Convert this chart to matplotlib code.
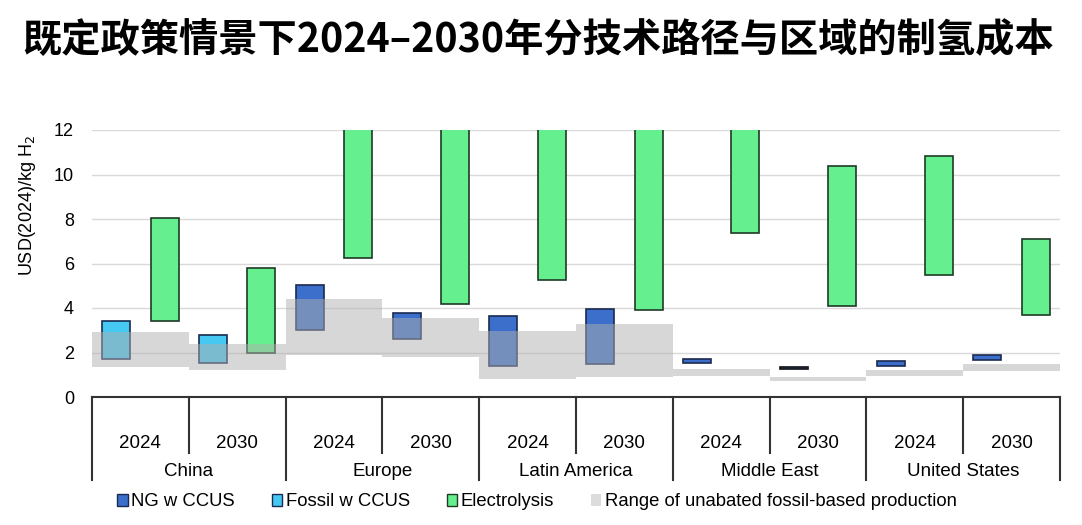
import matplotlib
matplotlib.use("Agg")
import matplotlib.pyplot as plt
from matplotlib.patches import Patch
from matplotlib.transforms import blended_transform_factory
import numpy as np

plt.rcParams['font.family'] = ['Liberation Sans', 'Noto Sans CJK SC', 'DejaVu Sans']

# data
regions = ['China', 'Europe', 'Latin America', 'Middle East', 'United States']
years = ['2024', '2030']
# CCUS type per group (fossil for China, natural gas elsewhere)
ccus_type = ['fossil', 'fossil', 'ng', 'ng', 'ng', 'ng', 'ng', 'ng', 'ng', 'ng']
ccus_low = [1.70, 1.53, 3.00, 2.60, 1.40, 1.48, 1.55, 1.26, 1.40, 1.65]
ccus_high = [3.42, 2.79, 5.03, 3.77, 3.64, 3.95, 1.70, 1.33, 1.60, 1.90]
elec_low = [3.40, 1.98, 6.25, 4.20, 5.25, 3.90, 7.37, 4.10, 5.50, 3.70]
elec_high = [8.05, 5.80, 12.5, 12.5, 12.5, 12.5, 12.5, 10.40, 10.85, 7.10]
fossil_low = [1.35, 1.22, 1.90, 1.80, 0.80, 0.90, 0.95, 0.72, 0.95, 1.18]
fossil_high = [2.90, 2.38, 4.40, 3.55, 2.97, 3.28, 1.26, 0.90, 1.20, 1.50]

c_ng = '#3b6fcb'
c_fossil = '#45c8f2'
c_elec = '#66ef8e'
c_gray = '#b0b0b0'

fig = plt.figure(figsize=(10.82, 5.25), dpi=100)
ax = fig.add_axes([92/1082, 128/525, 968/1082, 267/525])

n = len(ccus_low)
idx = np.arange(n)
ccus_colors = [c_fossil if t == 'fossil' else c_ng for t in ccus_type]
ccus_h = np.array(ccus_high) - np.array(ccus_low)
ccus_edge = ['#1a2a50' if h > 0.1 else '#111111' for h in ccus_h]
ax.bar(idx + 0.25, ccus_h, bottom=ccus_low, width=0.29, color=ccus_colors,
       edgecolor=ccus_edge, linewidth=1.2, zorder=2)
ax.bar(idx + 0.75, np.array(elec_high) - np.array(elec_low), bottom=elec_low,
       width=0.29, color=c_elec, edgecolor='#1f3a25', linewidth=1.2, zorder=2)
ax.bar(idx + 0.5, np.array(fossil_high) - np.array(fossil_low), bottom=fossil_low,
       width=1.0, color=c_gray, alpha=0.5, linewidth=0, zorder=3)

ax.set_xlim(0, n)
ax.set_ylim(0, 12)
ax.set_yticks(range(0, 13, 2))
ax.yaxis.grid(True, color='#d9d9d9', linewidth=1)
ax.set_axisbelow(True)
for s in ax.spines.values():
    s.set_visible(False)
ax.tick_params(axis='y', length=0, pad=13, labelsize=13)
ax.tick_params(axis='x', length=0, labelbottom=False)

# category box below the axis
tr = blended_transform_factory(ax.transData, ax.transAxes)
px = 1 / 267
ax.plot([0, n], [0, 0], transform=tr, color='#333333', lw=1.5, clip_on=False)
for i in range(n + 1):
    bottom = -83 * px if i % 2 == 0 else -56 * px
    ax.plot([i, i], [0, bottom], transform=tr, color='#333333', lw=1.5, clip_on=False)
for i in range(n):
    ax.text(i + 0.5, -47 * px, years[i % 2], transform=tr, ha='center', va='center',
            fontsize=13.5)
for r, name in enumerate(regions):
    ax.text(2 * r + 1, -75 * px, name, transform=tr, ha='center', va='center',
            fontsize=13.5)

fig.text(28/1082, 1 - 206/525, 'USD(2024)/kg H$_2$', rotation=90, ha='center',
         va='center', fontsize=13)

fig.text(22/1082, 1 - 40/525, '既定政策情景下2024–2030年分技术路径与区域的制氢成本',
         fontsize=28.3, fontweight='bold', ha='left', va='center',
         family=['Noto Sans CJK SC', 'DejaVu Sans'])

handles = [Patch(facecolor=c_ng, edgecolor='#1a2a50'),
           Patch(facecolor=c_fossil, edgecolor='#1a2a50'),
           Patch(facecolor=c_elec, edgecolor='#1f3a25'),
           Patch(facecolor='#dcdcdc', edgecolor='none')]
labels = ['NG w CCUS', 'Fossil w CCUS', 'Electrolysis',
          'Range of unabated fossil-based production']
fig.legend(handles, labels, loc='center', bbox_to_anchor=(537/1082, 1 - 502/525),
           ncol=4, frameon=False, fontsize=13.3, handlelength=0.55, handleheight=0.55,
           handletextpad=0.2, columnspacing=2.0)

fig.savefig('out.png', dpi=100)
